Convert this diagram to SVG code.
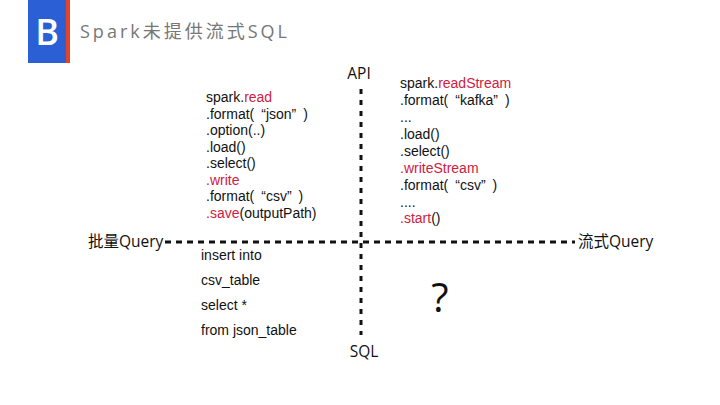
<svg xmlns="http://www.w3.org/2000/svg" width="720" height="405" viewBox="0 0 720 405">
<style>
text{font-family:"Open Sans","Noto Sans CJK SC",sans-serif;fill:#111;}
.code text{font-family:"Liberation Sans","Noto Sans CJK SC",sans-serif;font-size:14px;}
.code .red,.red{fill:#d0203f;}
.lbl{font-size:15.5px;}
.axis{stroke:#111;stroke-width:3;fill:none;}
.h{stroke-dasharray:6 5;}
.v{stroke-dasharray:5 6;}
</style>
<rect width="720" height="405" fill="#fff"/>
<g id="header">
<rect x="28" y="0" width="38" height="63" fill="#2a5fd6"/>
<rect x="66" y="0" width="4" height="63" fill="#e0452b"/>
<text x="47" y="45" text-anchor="middle" style="font-size:36px;font-weight:600;fill:#fff;font-family:'Open Sans',sans-serif">B</text>
<text x="80" y="38" style="font-size:18px;fill:#777;letter-spacing:3px">Spark未提供流式SQL</text>
</g>
<g id="connectors">
<line class="axis h" x1="165" y1="242" x2="575" y2="242"/>
<line class="axis v" x1="361" y1="89" x2="361" y2="335"/>
</g>
<g id="api"><text class="lbl" x="359" y="79" text-anchor="middle">API</text></g>
<g id="sql"><text class="lbl" x="364" y="357" text-anchor="middle">SQL</text></g>
<g id="batch"><text class="lbl" x="88" y="247">批量Query</text></g>
<g id="stream"><text class="lbl" x="578" y="247">流式Query</text></g>
<g id="batch-api" class="code">
<text x="206" y="102">spark.<tspan class="red">read</tspan></text>
<text x="206" y="118.5">.format(&#8194;“json”&#8194;)</text>
<text x="206" y="135">.option(..)</text>
<text x="206" y="151.5">.load()</text>
<text x="206" y="168">.select()</text>
<text x="206" y="184.5" class="red">.write</text>
<text x="206" y="201">.format(&#8194;“csv”&#8194;)</text>
<text x="206" y="217.5"><tspan class="red">.save</tspan>(outputPath)</text>
</g>
<g id="stream-api" class="code">
<text x="400" y="88">spark.<tspan class="red">readStream</tspan></text>
<text x="400" y="105">.format(&#8194;“kafka”&#8194;)</text>
<text x="400" y="122">...</text>
<text x="400" y="139">.load()</text>
<text x="400" y="156">.select()</text>
<text x="400" y="173" class="red">.writeStream</text>
<text x="400" y="190">.format(&#8194;“csv”&#8194;)</text>
<text x="400" y="206.5">....</text>
<text x="400" y="223"><tspan class="red">.start</tspan>()</text>
</g>
<g id="batch-sql" class="code">
<text x="201" y="260">insert into</text>
<text x="201" y="285">csv_table</text>
<text x="201" y="310">select *</text>
<text x="201" y="335">from json_table</text>
</g>
<g id="stream-sql"><text x="440" y="312" text-anchor="middle" style="font-size:40px">?</text></g>
</svg>
